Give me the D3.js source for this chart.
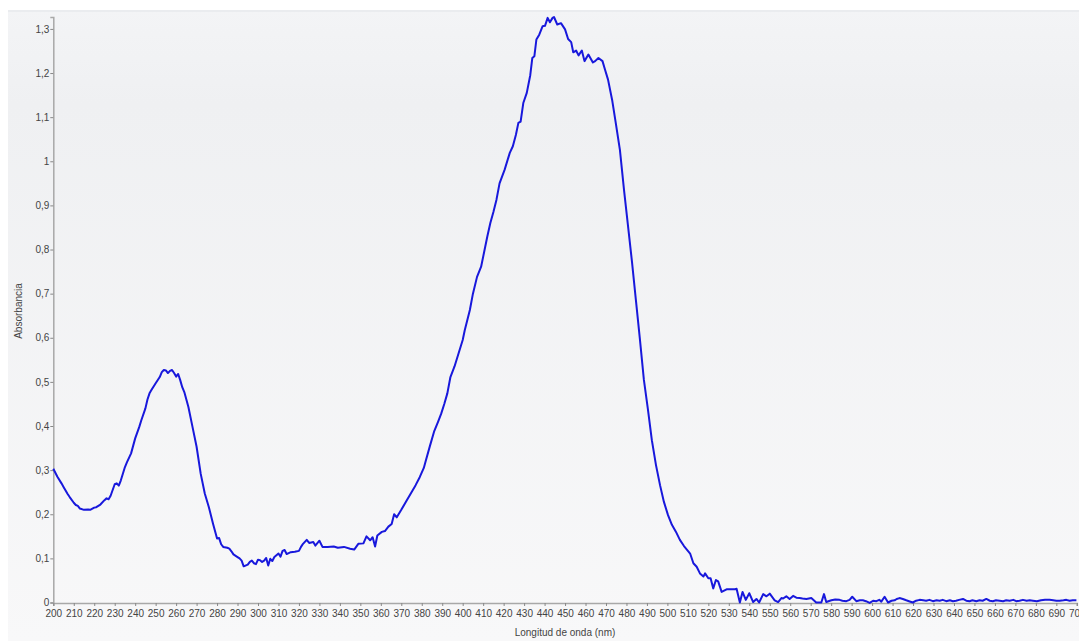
<!DOCTYPE html>
<html>
<head>
<meta charset="utf-8">
<script src="https://cdn.jsdelivr.net/npm/d3@7"></script>
<style>
  body { margin: 0; background: #fff; }
  svg { display: block; }
  .tick text { font-family: "Liberation Sans", Arial, sans-serif; font-size: 10px; fill: #444; }
  .title { font-family: "Liberation Sans", Arial, sans-serif; font-size: 10px; fill: #444; }
</style>
</head>
<body>
<div id="chart"></div>
<script>
// wavelength (nm)
var wavelength = [
  200, 202, 204, 205, 207, 208, 210, 211, 212, 213, 215, 217, 218, 220, 221, 223, 225, 226, 227, 228,
  230, 231, 232, 233, 235, 236, 238, 240, 242, 243, 245, 246, 247, 248, 250, 252, 253, 254, 255, 256,
  257, 258, 259, 260, 261, 262, 263, 264, 266, 268, 270, 272, 274, 276, 278, 280, 281, 282, 283, 285,
  286, 287, 288, 290, 291, 292, 293, 295, 296, 297, 298, 299, 300, 301, 302, 303, 304, 305, 306, 307,
  308, 309, 310, 311, 312, 313, 314, 315, 316, 318, 320, 321, 322, 323.8, 325, 327, 328, 330, 331.5, 334,
  337, 339, 342, 345, 347, 349, 351.5, 353, 354.8, 356, 357.2, 358.3, 360.5, 362, 363.7, 365.3, 366.5, 367.8, 370, 372.7,
  375, 377, 379, 381, 382, 384, 386, 388, 389.5, 391, 392.5, 394, 396, 398, 400, 401, 403.5, 405, 407, 409,
  410.5, 412, 413.5, 415, 416.5, 418, 420.5, 423, 424.5, 426, 427.2, 428.3, 429.6, 431.3, 433, 434, 435, 436, 437.4, 439,
  440.2, 441.5, 442.6, 443.9, 444.6, 446.2, 448, 450, 451.5, 453, 454, 455.4, 456.6, 458.2, 459.5, 461.4, 463.6, 464.7, 466.3, 468.3,
  469.5, 471, 473, 474.9, 476.8, 478.8, 480.7, 482.7, 484.6, 486.6, 488.5, 490.5, 492.4, 494.4, 496.4, 498.3, 500.3, 502.2, 504.2, 506.1,
  508.1, 509.5, 511.1, 512.7, 514.3, 515.9, 517.6, 518.4, 520, 521.1, 522.4, 523.7, 524.8, 526.5, 528.9, 531, 533, 533.8, 535.4, 536.7,
  538.3, 540, 541.9, 543.5, 544.8, 546.8, 548.4, 550, 551.6, 552.4, 554.1, 555.7, 556.5, 558.1, 559.7, 561.4, 563, 564.6, 566, 567.9,
  570.3, 572.7, 575.2, 576.5, 577.6, 580.1, 582, 584.1, 585.5, 587.4, 589, 590.3, 592.3, 594, 595.5, 597, 598.8, 600.5, 602.1, 603.5,
  604.5, 606.1, 607.8, 609.5, 611, 612, 613.4, 615, 616.7, 618, 619.9, 621.5, 623.2, 625, 626.4, 628, 629.7, 631.5, 633, 634.5,
  636.2, 638, 639.5, 641, 642.5, 644.4, 646, 647.6, 649, 650.9, 652.5, 654, 655.8, 657.5, 659, 660.5, 662.3, 664, 665.5, 667.2,
  669, 670.4, 672, 673.7, 675.5, 677, 678.6, 680.5, 682.5, 684.5, 686.7, 688.5, 690, 691.6, 693.5, 694.9, 696.5, 698, 699.8
];

// absorbance at each wavelength
var absorbance = [
  0.303, 0.285, 0.270, 0.262, 0.246, 0.239, 0.226, 0.221, 0.219, 0.213, 0.210, 0.211, 0.210, 0.215, 0.216, 0.222, 0.232, 0.236, 0.234, 0.242,
  0.268, 0.270, 0.265, 0.277, 0.307, 0.318, 0.338, 0.372, 0.398, 0.413, 0.440, 0.460, 0.474, 0.482, 0.497, 0.511, 0.522, 0.527, 0.526, 0.520,
  0.525, 0.527, 0.520, 0.512, 0.518, 0.504, 0.488, 0.477, 0.443, 0.398, 0.353, 0.292, 0.247, 0.216, 0.179, 0.145, 0.146, 0.132, 0.126, 0.124,
  0.122, 0.116, 0.109, 0.103, 0.100, 0.095, 0.082, 0.086, 0.092, 0.095, 0.089, 0.087, 0.097, 0.096, 0.092, 0.095, 0.101, 0.084, 0.099, 0.094,
  0.103, 0.107, 0.111, 0.104, 0.117, 0.119, 0.110, 0.112, 0.114, 0.115, 0.117, 0.126, 0.133, 0.142, 0.135, 0.137, 0.129, 0.140, 0.126, 0.126,
  0.127, 0.124, 0.126, 0.122, 0.120, 0.133, 0.134, 0.150, 0.141, 0.148, 0.127, 0.152, 0.160, 0.162, 0.172, 0.178, 0.200, 0.193, 0.210, 0.232,
  0.250, 0.266, 0.284, 0.305, 0.322, 0.355, 0.387, 0.410, 0.428, 0.450, 0.474, 0.511, 0.535, 0.565, 0.595, 0.617, 0.663, 0.700, 0.738, 0.761,
  0.795, 0.829, 0.860, 0.885, 0.913, 0.950, 0.981, 1.019, 1.034, 1.060, 1.087, 1.090, 1.132, 1.155, 1.195, 1.234, 1.238, 1.276, 1.287, 1.306,
  1.307, 1.325, 1.315, 1.325, 1.327, 1.310, 1.313, 1.299, 1.277, 1.270, 1.247, 1.251, 1.240, 1.251, 1.227, 1.242, 1.224, 1.227, 1.234, 1.227,
  1.208, 1.185, 1.139, 1.083, 1.026, 0.935, 0.856, 0.772, 0.686, 0.595, 0.505, 0.437, 0.368, 0.312, 0.266, 0.228, 0.198, 0.176, 0.160, 0.142,
  0.128, 0.120, 0.111, 0.089, 0.081, 0.066, 0.059, 0.066, 0.055, 0.055, 0.032, 0.051, 0.048, 0.024, 0.030, 0.030, 0.030, 0.031, 0.000, 0.024,
  0.006, 0.021, 0.001, 0.008, 0.000, 0.019, 0.014, 0.020, 0.010, 0.005, 0.001, 0.010, 0.009, 0.014, 0.008, 0.015, 0.011, 0.010, 0.009, 0.008,
  0.010, 0.000, 0.000, 0.019, 0.001, 0.005, 0.007, 0.006, 0.004, 0.003, 0.006, 0.013, 0.003, 0.005, 0.005, 0.003, -0.001, 0.004, 0.003, 0.006,
  0.002, 0.013, 0.000, 0.004, 0.005, 0.008, 0.010, 0.008, 0.005, 0.003, 0.000, 0.004, 0.006, 0.005, 0.004, 0.006, 0.003, 0.005, 0.004, 0.006,
  0.003, 0.005, 0.003, 0.004, 0.006, 0.008, 0.004, 0.003, 0.005, 0.003, 0.005, 0.004, 0.008, 0.004, 0.003, 0.005, 0.004, 0.003, 0.005, 0.004,
  0.006, 0.003, 0.004, 0.006, 0.004, 0.005, 0.004, 0.003, 0.005, 0.006, 0.006, 0.005, 0.004, 0.004, 0.005, 0.006, 0.004, 0.005, 0.005
];

var xTicks = d3.range(200, 701, 10);
var yTicks = d3.range(0, 14).map(function (i) { return i / 10; });

var width = 1079, height = 641;

var svg = d3.select("#chart").append("svg")
  .attr("width", width)
  .attr("height", height);

// panel background
var grad = svg.append("defs").append("linearGradient")
  .attr("id", "bg")
  .attr("x1", 0).attr("y1", 0).attr("x2", 0).attr("y2", 1);
grad.append("stop").attr("offset", "0").attr("stop-color", "#f3f4f6");
grad.append("stop").attr("offset", "0.15").attr("stop-color", "#eff0f2");
grad.append("stop").attr("offset", "1").attr("stop-color", "#f8f8f9");

svg.append("rect")
  .attr("x", 8).attr("y", 10)
  .attr("width", width - 8).attr("height", height - 10)
  .attr("fill", "url(#bg)");
svg.append("rect")
  .attr("x", 8).attr("y", 10)
  .attr("width", width - 8).attr("height", 2)
  .attr("fill", "#eaecef");

var x = d3.scaleLinear().domain([200, 700]).range([53.3, 1076.8]);
var y = d3.scaleLinear().domain([0, 1.327]).range([602.5, 17]);

var locale = d3.formatLocale({ decimal: ",", thousands: ".", grouping: [3], currency: ["", ""] });
var fmt = locale.format(".1~f");

// y axis
var yAxis = svg.append("g")
  .attr("transform", "translate(53.3,0)")
  .call(d3.axisLeft(y).tickValues(yTicks).tickFormat(fmt).tickSize(3).tickPadding(1));
yAxis.select(".domain").attr("stroke", "#a8a8a8").attr("stroke-width", 1.5);
yAxis.selectAll(".tick line").attr("stroke", "#888");

// x axis
var xAxis = svg.append("g")
  .attr("transform", "translate(0,603)")
  .call(d3.axisBottom(x).tickValues(xTicks).tickFormat(d3.format("d")).tickSize(3).tickPadding(4));
xAxis.select(".domain").attr("stroke", "#a8a8a8").attr("stroke-width", 1.5);
xAxis.selectAll(".tick line").attr("stroke", "#888");

// titles
svg.append("text")
  .attr("class", "title")
  .attr("x", 565).attr("y", 636)
  .attr("text-anchor", "middle")
  .text("Longitud de onda (nm)");

svg.append("text")
  .attr("class", "title")
  .attr("transform", "translate(22,311) rotate(-90)")
  .attr("text-anchor", "middle")
  .text("Absorbancia");

// spectrum
var line = d3.line()
  .x(function (d, i) { return x(wavelength[i]); })
  .y(function (d) { return y(d); });

svg.append("path")
  .datum(absorbance)
  .attr("d", line)
  .attr("fill", "none")
  .attr("stroke", "#1818dc")
  .attr("stroke-width", 2)
  .attr("stroke-linejoin", "round");
</script>
</body>
</html>
